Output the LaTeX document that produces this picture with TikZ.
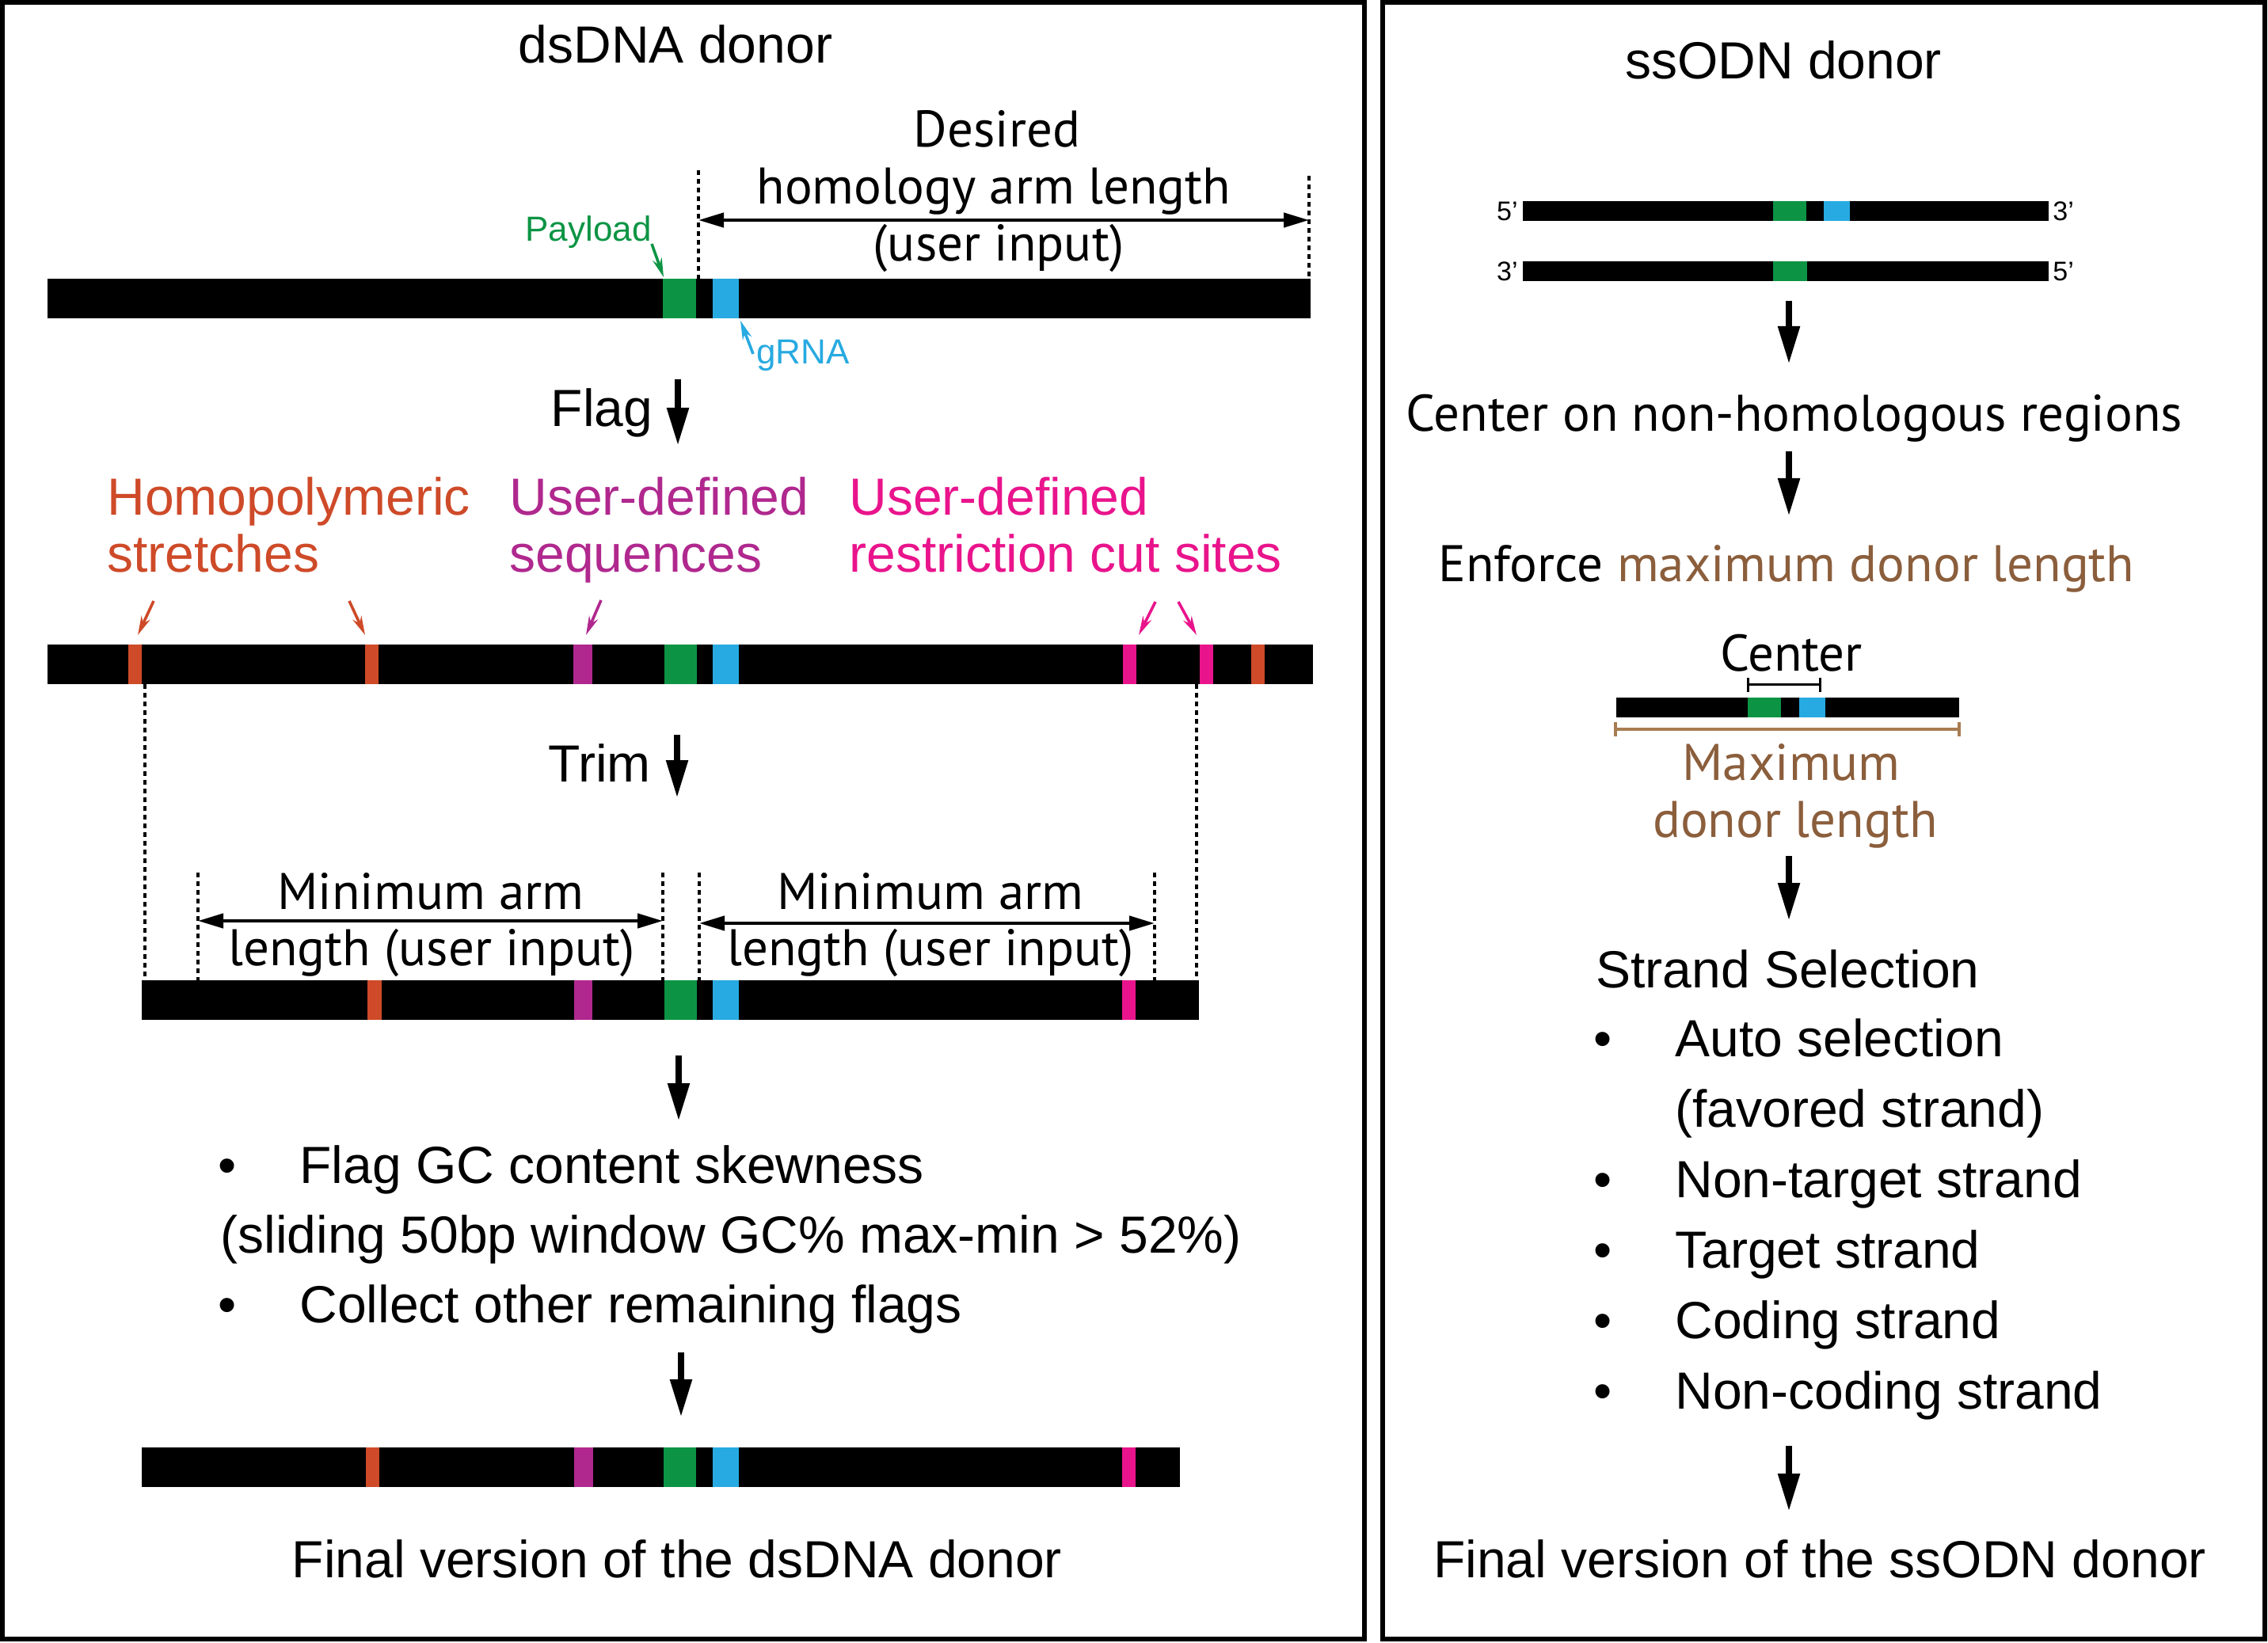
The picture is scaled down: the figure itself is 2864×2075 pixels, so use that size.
\documentclass[tikz,border=0pt]{standalone}
\usepackage{fontspec}
\setmainfont{Liberation Sans}
\newfontfamily\myr{PT Sans}
\usetikzlibrary{arrows.meta}
\definecolor{cgreen}{RGB}{12,148,68}
\definecolor{cblue}{RGB}{39,170,225}
\definecolor{corange}{RGB}{206,74,40}
\definecolor{cpurple}{RGB}{176,40,142}
\definecolor{cpink}{RGB}{233,20,140}
\definecolor{cbrown}{RGB}{139,94,60}
\definecolor{cbrownl}{RGB}{168,124,82}
\newcommand\segm[4]{\fill[#1] (#2,#4) rectangle (#3,{#4+50});}
\newcommand\segs[4]{\fill[#1] (#2,#4) rectangle (#3,{#4+25});}
\begin{document}
\begin{tikzpicture}[x=0.5pt,y=-0.5pt,
  txt/.style={font=\fontsize{33}{36}\selectfont, inner sep=0pt, anchor=base},
  mtxt/.style={font=\myr\fontsize{32.5}{36}\selectfont, inner sep=0pt, anchor=base},
  smalltxt/.style={font=\fontsize{22}{24}\selectfont, inner sep=0pt, anchor=base},
  tinytxt/.style={font=\fontsize{17}{19}\selectfont, inner sep=0pt, anchor=base},
  flow/.style={line width=4.2pt, -{Triangle[length=24pt,width=13pt]}},
  dimarrow/.style={line width=2.2pt, {Triangle[length=16pt,width=9pt]}-{Triangle[length=16pt,width=9pt]}},
  guide/.style={line width=1.6pt, dash pattern=on 3pt off 2.5pt},
  ptr/.style={line width=1.8pt, -{Stealth[length=12pt,width=6pt]}},
  frame/.style={line width=3pt}]
\useasboundingbox (0,0) rectangle (2864,2075);
% frames
\draw[frame] (3,3) rectangle (1723,2070);
\draw[frame] (1746,3) rectangle (2860,2070);

%%% LEFT PANEL
\node[txt] (t1) at (853,80) {dsDNA donor};
\node[mtxt] (des1) at (1259,186) {Desired};
\node[mtxt] (des2) at (1255,258) {homology arm length};
\node[mtxt] (des3) at (1261,330) {(user input)};
\coordinate (g1a) at (882,215); \coordinate (g1b) at (882,352);
\coordinate (g2a) at (1653,222); \coordinate (g2b) at (1653,352);
\draw[guide] (g1a) -- (g1b);
\draw[guide] (g2a) -- (g2b);
\coordinate (d1l) at (882,278); \coordinate (d1r) at (1653,278);
\draw[dimarrow] (d1l) -- (d1r);
% bar 1
\fill (60,352) rectangle (1655,402);
\segm{cgreen}{837}{879}{352}
\segm{cblue}{900}{933}{352}
\node[smalltxt, text=cgreen] (pay) at (743,305) {Payload};
\coordinate (paya) at (823,308); \coordinate (payb) at (838,350);
\draw[ptr, cgreen] (paya) -- (payb);
\node[smalltxt, text=cblue] (grna) at (1014,460) {gRNA};
\coordinate (gra) at (951,447); \coordinate (grb) at (935,405);
\draw[ptr, cblue] (gra) -- (grb);
% flag
\node[txt] (flag) at (760,539) {Flag};
\coordinate (fa) at (856,479); \coordinate (fb) at (856,563);
\draw[flow] (fa) -- (fb);
% categories
\node[txt, anchor=base west, text=corange] (h1) at (135,650) {Homopolymeric};
\node[txt, anchor=base west, text=corange] (h2) at (135,722) {stretches};
\node[txt, anchor=base west, text=cpurple] (u1) at (643,650) {User-defined};
\node[txt, anchor=base west, text=cpurple] (u2) at (643,722) {sequences};
\node[txt, anchor=base west, text=cpink] (r1) at (1072,650) {User-defined};
\node[txt, anchor=base west, text=cpink] (r2) at (1072,722) {restriction cut sites};
\coordinate (p1a) at (194,759); \coordinate (p1b) at (174,802);
\coordinate (p2a) at (441,759); \coordinate (p2b) at (461,802);
\coordinate (p3a) at (759,758); \coordinate (p3b) at (740,802);
\coordinate (p4a) at (1459,760); \coordinate (p4b) at (1438,802);
\coordinate (p5a) at (1488,760); \coordinate (p5b) at (1511,802);
\draw[ptr, corange] (p1a) -- (p1b);
\draw[ptr, corange] (p2a) -- (p2b);
\draw[ptr, cpurple] (p3a) -- (p3b);
\draw[ptr, cpink] (p4a) -- (p4b);
\draw[ptr, cpink] (p5a) -- (p5b);
% bar 2
\fill (60,814) rectangle (1658,864);
\segm{corange}{162}{179}{814}
\segm{corange}{461}{478}{814}
\segm{cpurple}{724}{748}{814}
\segm{cgreen}{839}{880}{814}
\segm{cblue}{900}{933}{814}
\segm{cpink}{1418}{1435}{814}
\segm{cpink}{1515}{1532}{814}
\segm{corange}{1580}{1597}{814}
\coordinate (g3a) at (183,864); \coordinate (g3b) at (183,1238);
\coordinate (g4a) at (1511,864); \coordinate (g4b) at (1511,1238);
\draw[guide] (g3a) -- (g3b);
\draw[guide] (g4a) -- (g4b);
% trim
\node[txt] (trim) at (757,987) {Trim};
\coordinate (ta) at (855,928); \coordinate (tb) at (855,1008);
\draw[flow] (ta) -- (tb);
% min arm
\coordinate (g5a) at (250,1102); \coordinate (g5b) at (250,1238);
\coordinate (g6a) at (837,1102); \coordinate (g6b) at (837,1238);
\coordinate (g7a) at (883,1102); \coordinate (g7b) at (883,1238);
\coordinate (g8a) at (1458,1102); \coordinate (g8b) at (1458,1238);
\draw[guide] (g5a) -- (g5b);
\draw[guide] (g6a) -- (g6b);
\draw[guide] (g7a) -- (g7b);
\draw[guide] (g8a) -- (g8b);
\coordinate (d2l) at (250,1163); \coordinate (d2r) at (837,1163);
\coordinate (d3l) at (883,1166); \coordinate (d3r) at (1458,1166);
\draw[dimarrow] (d2l) -- (d2r);
\draw[dimarrow] (d3l) -- (d3r);
\node[mtxt] (m1) at (544,1148) {Minimum arm};
\node[mtxt] (m2) at (545,1219) {length (user input)};
\node[mtxt] (m3) at (1175,1148) {Minimum arm};
\node[mtxt] (m4) at (1175,1219) {length (user input)};
% bar 3
\fill (179,1238) rectangle (1514,1288);
\segm{corange}{464}{482}{1238}
\segm{cpurple}{725}{748}{1238}
\segm{cgreen}{839}{880}{1238}
\segm{cblue}{900}{933}{1238}
\segm{cpink}{1417}{1434}{1238}
\coordinate (a3a) at (857,1333); \coordinate (a3b) at (857,1416);
\draw[flow] (a3a) -- (a3b);
% bullets
\node[txt] (b1d) at (287,1494) {•};
\node[txt, anchor=base west] (b1) at (378,1494) {Flag GC content skewness};
\node[txt, anchor=base west] (b2) at (278,1582) {(sliding 50bp window GC\% max-min > 52\%)};
\node[txt] (b3d) at (287,1670) {•};
\node[txt, anchor=base west] (b3) at (378,1670) {Collect other remaining flags};
\coordinate (a4a) at (860,1708); \coordinate (a4b) at (860,1790);
\draw[flow] (a4a) -- (a4b);
% bar 4
\fill (179,1828) rectangle (1490,1878);
\segm{corange}{462}{479}{1828}
\segm{cpurple}{725}{749}{1828}
\segm{cgreen}{838}{879}{1828}
\segm{cblue}{900}{933}{1828}
\segm{cpink}{1417}{1434}{1828}
\node[txt] (fin1) at (855,1992) {Final version of the dsDNA donor};

%%% RIGHT PANEL
\node[txt] (t2) at (2252,100) {ssODN donor};
\fill (1923,254) rectangle (2587,279);
\segs{cgreen}{2239}{2281}{254}
\segs{cblue}{2303}{2336}{254}
\fill (1923,330) rectangle (2587,355);
\segs{cgreen}{2239}{2282}{330}
\node[tinytxt, anchor=base east] (e1) at (1917,279) {5’};
\node[tinytxt, anchor=base west] (e2) at (2592,279) {3’};
\node[tinytxt, anchor=base east] (e3) at (1917,355) {3’};
\node[tinytxt, anchor=base west] (e4) at (2592,355) {5’};
\coordinate (r1a) at (2259,380); \coordinate (r1b) at (2259,460);
\draw[flow] (r1a) -- (r1b);
\node[mtxt] (con) at (2266,545) {Center on non-homologous regions};
\coordinate (r2a) at (2259,570); \coordinate (r2b) at (2259,652);
\draw[flow] (r2a) -- (r2b);
\node[mtxt] (enf) at (2256,734) {Enforce \textcolor{cbrown}{maximum donor length}};
\node[mtxt] (cen) at (2262,847) {Center};
\coordinate (c1) at (2207,864); \coordinate (c2) at (2298,864);
\draw[line width=1.5pt] (c1) -- (c2);
\draw[line width=1.5pt] (2207,856) -- (2207,874);
\draw[line width=1.5pt] (2298,856) -- (2298,874);
\fill (2041,881) rectangle (2474,906);
\segs{cgreen}{2207}{2249}{881}
\segs{cblue}{2272}{2305}{881}
\coordinate (mx1) at (2040,921); \coordinate (mx2) at (2474,921);
\draw[line width=2pt, cbrownl] (mx1) -- (mx2);
\draw[line width=2pt, cbrownl] (2040,912) -- (2040,930);
\draw[line width=2pt, cbrownl] (2474,912) -- (2474,930);
\node[mtxt, text=cbrown] (mx3) at (2262,985) {Maximum};
\node[mtxt, text=cbrown] (mx4) at (2267,1057) {donor length};
\coordinate (r3a) at (2259,1081); \coordinate (r3b) at (2259,1163);
\draw[flow] (r3a) -- (r3b);
\node[txt, anchor=base west] (ss) at (2015,1247) {Strand Selection};
\foreach \yy/\tt [count=\i] in {1334/Auto selection, 1512/Non-target strand, 1601/Target strand, 1690/Coding strand, 1779/Non-coding strand}{
  \node[txt] (sd\i) at (2024,\yy) {•};
  \node[txt, anchor=base west] (st\i) at (2115,\yy) {\tt};
}
\node[txt, anchor=base west] (fav) at (2115,1423) {(favored strand)};
\coordinate (r4a) at (2259,1826); \coordinate (r4b) at (2259,1909);
\draw[flow] (r4a) -- (r4b);
\node[txt] (fin2) at (2298,1992) {Final version of the ssODN donor};
\end{tikzpicture}
\end{document}
